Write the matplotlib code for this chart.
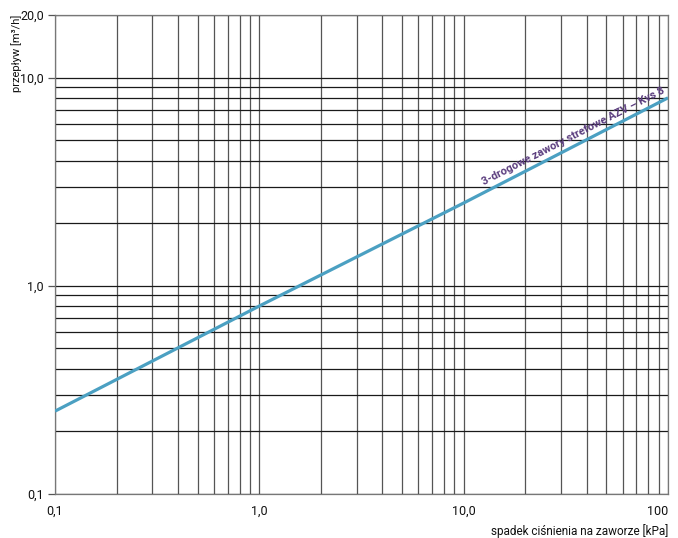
import numpy as np
import matplotlib
matplotlib.use("Agg")
import matplotlib.pyplot as plt
from matplotlib.ticker import FixedLocator, NullFormatter

plt.rcParams['font.family'] = ['Roboto', 'DejaVu Sans']

# data (Kvs 8 curve)
pressure_drop = [0.1, 1.0, 10.0, 100.0]   # kPa
flow = [0.25, 0.8, 2.5, 8.0]              # m3/h

x_ticks = [0.1, 1.0, 10.0, 100.0]
x_labels = ["0,1", "1,0", "10,0", "100"]
y_ticks = [0.1, 1.0, 10.0, 20.0]
y_labels = ["0,1", "1,0", "10,0", "20,0"]

curve_label = "3-drogowe zawory strefowe AZV – Kvs 8"

fig = plt.figure(figsize=(6.78, 5.38), dpi=100)
ax = fig.add_axes([55 / 678, 1 - 494 / 538, 613 / 678, 479 / 538])

ax.set_xscale("log")
ax.set_yscale("log")
ax.set_xlim(0.1, 100)
ax.set_ylim(0.1, 20)

# grid: 1..9 per decade
x_grid = [m * 10.0 ** e for e in (-1, 0, 1) for m in range(1, 10)] + [100.0]
y_grid = [m * 10.0 ** e for e in (-1, 0) for m in range(1, 10)] + [10.0, 20.0]
for xv in x_grid:
    ax.axvline(xv, color="#555555", lw=0.9, zorder=1)
for yv in y_grid:
    ax.axhline(yv, color="#1a1a1a", lw=0.9, zorder=1)

ax.plot(pressure_drop, flow, color="#4ba0c2", lw=2.3, solid_capstyle="butt", zorder=3)

ax.xaxis.set_major_locator(FixedLocator(x_ticks))
ax.yaxis.set_major_locator(FixedLocator(y_ticks))
ax.xaxis.set_minor_locator(FixedLocator([]))
ax.yaxis.set_minor_locator(FixedLocator([]))
ax.xaxis.set_minor_formatter(NullFormatter())
ax.yaxis.set_minor_formatter(NullFormatter())
ax.set_xticklabels(x_labels)
ax.set_yticklabels(y_labels)
ax.tick_params(axis="x", length=0, pad=8, labelsize=9, colors="#111111")
ax.tick_params(axis="y", length=5, width=0.9, color="#555555", pad=3, labelsize=9, labelcolor="#111111")
ax.get_xticklabels()[-1].set_horizontalalignment("right")

for s in ax.spines.values():
    s.set_color("#777777")
    s.set_linewidth(0.9)

ax.set_xlabel("spadek ciśnienia na zaworze [kPa]", fontsize=8.5, color="#111111")
ax.xaxis.set_label_coords(1.0, -0.062)
ax.xaxis.label.set_horizontalalignment("right")
ax.set_ylabel("przepływ [m³/h]", fontsize=8, color="#111111")
ax.yaxis.set_label_coords(-0.062, 1.0)
ax.yaxis.label.set_verticalalignment("center")
ax.yaxis.label.set_horizontalalignment("right")

# rotated curve label following the line
fig.canvas.draw()
p0 = ax.transData.transform((pressure_drop[0], flow[0]))
p1 = ax.transData.transform((pressure_drop[-1], flow[-1]))
angle = np.degrees(np.arctan2(p1[1] - p0[1], p1[0] - p0[0]))
x_lab = 12.7
y_lab = np.interp(np.log10(x_lab), np.log10(pressure_drop), np.log10(flow))
ax.annotate(curve_label, xy=(x_lab, 10 ** y_lab), xytext=(0, 3.5), textcoords="offset points",
            rotation=angle, rotation_mode="anchor", ha="left", va="bottom",
            fontsize=8, fontweight="bold", color="#5b3d7e", zorder=4,
            annotation_clip=False)

fig.savefig("out.png", dpi=100)
